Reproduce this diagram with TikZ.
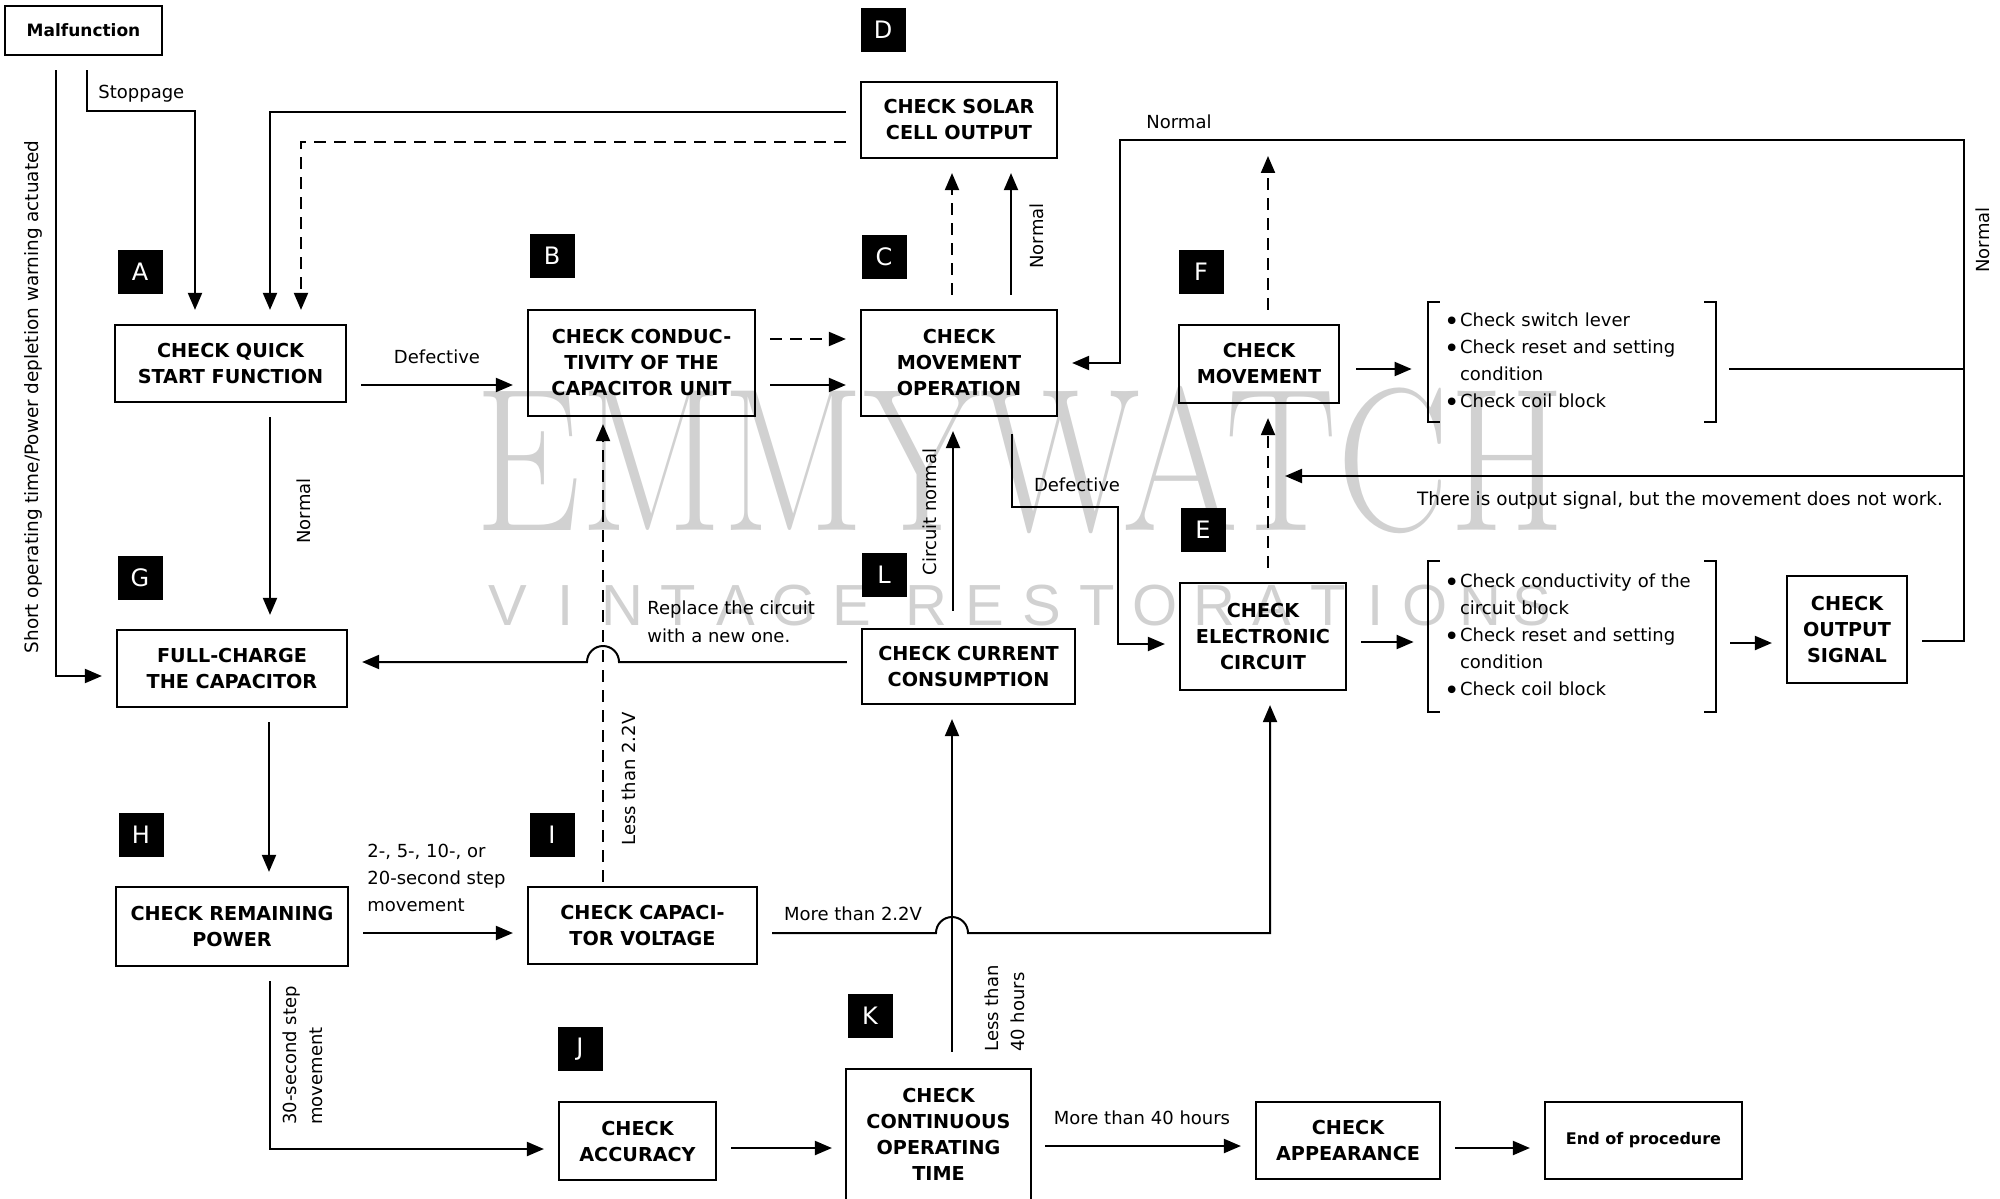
\documentclass[tikz,border=0pt]{standalone}
\usepackage{fontspec}
\setmainfont{DejaVu Sans}
\newfontfamily\wmserif{Latin Modern Roman}
\newfontfamily\wmsans{Liberation Sans}
\usetikzlibrary{arrows.meta}

% bullet of the check lists
\newcommand{\bul}{\makebox[8pt][l]{\raisebox{-1.7pt}{\scalebox{1.45}{\textbullet}}}}
\newlength{\itemw}
\setlength{\itemw}{120pt}

\tikzset{
  box/.style={draw, line width=1.1pt, align=center, inner sep=1pt,
    font=\bfseries\fontsize{9.6}{13}\selectfont},
  tag/.style={fill=black, text=white, inner sep=0pt,
    minimum width=22.5pt, minimum height=22pt, font=\fontsize{12}{12}\selectfont},
  lbl/.style={inner sep=0pt, font=\fontsize{9}{13}\selectfont},
  items/.style={inner sep=0pt, align=left, text width=128pt,
    minimum width=144pt, font=\fontsize{9}{13.5}\selectfont},
  arr/.style={line width=1pt, -{Triangle[length=8.5pt,width=7pt]},
    shorten <=7pt, shorten >=7pt},
  ln/.style={line width=1pt},
  dsh/.style={dash pattern=on 6pt off 4pt},
  brk/.style={line width=1pt},
  wmbig/.style={text=black!18, inner sep=0pt, anchor=base, xscale=0.82,
    font=\wmserif\fontsize{102}{102}\selectfont},
  wmsmall/.style={text=black!18, inner sep=0pt, anchor=base,
    font=\wmsans\fontsize{29}{29}\selectfont},
}

\begin{document}
\begin{tikzpicture}[x=0.5pt,y=-0.5pt]
\useasboundingbox (0,0) rectangle (2000,1198);

% Watermark
\node[wmbig] (wm) at (1020,530) {EMMYWATCH};
\foreach \x/\ch [count=\i] in {508/V,566/I,622/N,678/T,736/A,794/G,852/E,
  926/R,985/E,1042/S,1097/T,1155/O,1214/R,1272/A,1328/T,1376/I,1425/O,1480/N,1532/S}
  \node[wmsmall] (wl\i) at (\x,625) {\ch};

% Boxes
\node[box, minimum width=78.5pt, minimum height=24.5pt,
  font=\bfseries\fontsize{8.5}{10}\selectfont] (malf) at (83.5,30.5) {Malfunction};
\node[box, minimum width=115.5pt, minimum height=38.5pt] (qsf) at (230.5,363.5) {CHECK QUICK\\START FUNCTION};
\node[box, minimum width=113.5pt, minimum height=53pt] (b) at (641.5,363) {CHECK CONDUC-\\TIVITY OF THE\\CAPACITOR UNIT};
\node[box, minimum width=98pt, minimum height=38pt] (solar) at (959,120) {CHECK SOLAR\\CELL OUTPUT};
\node[box, minimum width=98pt, minimum height=53pt] (mo) at (959,363) {CHECK\\MOVEMENT\\OPERATION};
\node[box, minimum width=80pt, minimum height=39pt] (fm) at (1259,364) {CHECK\\MOVEMENT};
\node[box, minimum width=83pt, minimum height=53.5pt] (ec) at (1263,636.5) {CHECK\\ELECTRONIC\\CIRCUIT};
\node[box, minimum width=60pt, minimum height=53.5pt] (os) at (1847,629.5) {CHECK\\OUTPUT\\SIGNAL};
\node[box, minimum width=106.5pt, minimum height=37.5pt] (cc) at (968.5,666.5) {CHECK CURRENT\\CONSUMPTION};
\node[box, minimum width=115pt, minimum height=38.5pt] (fc) at (232,668.5) {FULL-CHARGE\\THE CAPACITOR};
\node[box, minimum width=116pt, minimum height=39.5pt] (rp) at (232,926.5) {CHECK REMAINING\\POWER};
\node[box, minimum width=114.5pt, minimum height=38.5pt] (cv) at (642.5,925.5) {CHECK CAPACI-\\TOR VOLTAGE};
\node[box, minimum width=78.5pt, minimum height=39pt] (acc) at (637.5,1141) {CHECK\\ACCURACY};
\node[box, draw=none, minimum width=91.5pt, minimum height=64pt] (ct) at (938.5,1134) {CHECK\\CONTINUOUS\\OPERATING\\TIME};
\draw[line width=1.1pt] (ct.south west) -- (ct.north west) -- (ct.north east) -- (ct.south east);
\node[box, minimum width=92pt, minimum height=38.5pt] (app) at (1348,1140.5) {CHECK\\APPEARANCE};
\node[box, minimum width=98.5pt, minimum height=38.5pt,
  font=\bfseries\fontsize{8}{10}\selectfont] (fin) at (1643.5,1140.5) {End of procedure};

% Check lists
\node[items, minimum height=60pt] (br1) at (1572,362) {\bul Check switch lever\\
  \bul\makebox[\itemw][s]{Check reset and setting}\\
  \hspace*{8pt}condition\\
  \bul Check coil block};
\node[items, minimum height=75.5pt] (br2) at (1572,636.5) {\bul Check conductivity of the\\
  \hspace*{8pt}circuit block\\
  \bul\makebox[\itemw][s]{Check reset and setting}\\
  \hspace*{8pt}condition\\
  \bul Check coil block};
\foreach \br in {br1,br2} {
  \draw[brk] ([xshift=6pt]\br.north west) -- (\br.north west) -- (\br.south west) -- ([xshift=6pt]\br.south west);
  \draw[brk] ([xshift=-6pt]\br.north east) -- (\br.north east) -- (\br.south east) -- ([xshift=-6pt]\br.south east);
}

% Step tags
\node[tag] (tA) at (140,272) {A};
\node[tag] (tB) at (552,256) {B};
\node[tag] (tC) at (884,257) {C};
\node[tag] (tD) at (883,30) {D};
\node[tag] (tE) at (1203,530) {E};
\node[tag] (tF) at (1201,272) {F};
\node[tag] (tG) at (140,578) {G};
\node[tag] (tH) at (141,835) {H};
\node[tag] (tI) at (552,835) {I};
\node[tag] (tJ) at (580,1049) {J};
\node[tag] (tK) at (870,1016) {K};
\node[tag] (tL) at (884,575) {L};

% Arrows
\coordinate (malfdrop) at ([xshift=-13.75pt]malf.south);
\draw[arr] (malfdrop) |- ([yshift=-3.75pt]fc.west);
\coordinate (stopbend) at (195,111);
\draw[arr] ([xshift=1.75pt]malf.south) |- (stopbend) -- (stopbend |- qsf.north);
\draw[arr] ([yshift=4pt]solar.west) -| ([xshift=19.75pt]qsf.north);
\draw[arr,dsh] ([yshift=-11pt]solar.west) -| ([xshift=35.25pt]qsf.north);
\draw[arr] ([yshift=-10.75pt]qsf.east) -- ([yshift=-10.75pt]qsf.east -| b.west);
\draw[arr,dsh] ([yshift=12pt]b.east) -- ([yshift=12pt]b.east -| mo.west);
\draw[arr] ([yshift=-11pt]b.east) -- ([yshift=-11pt]b.east -| mo.west);
\draw[arr,dsh] ([xshift=-3.5pt]mo.north) -- ([xshift=-3.5pt]mo.north |- solar.south);
\draw[arr] ([xshift=26pt]mo.north) -- ([xshift=26pt]mo.north |- solar.south);

% Normal loop on the right
\coordinate (rtop) at (1964,140);
\coordinate (ltop) at (1120,140);
\draw[arr] ([yshift=-5.75pt]os.east) -| (rtop) -- (ltop) |- (mo.east);
\draw[ln,shorten <=6.5pt] ([yshift=-3.5pt]br1.east) -- ([yshift=-3.5pt]br1.east -| rtop);
\coordinate (sigR) at (1964,476);
\coordinate (dashEF) at ([xshift=2.5pt]ec.north);
\draw[arr,shorten <=0pt,shorten >=8.5pt] (sigR) -- (sigR -| dashEF);
\draw[arr,dsh] (dashEF) -- (dashEF |- fm.south);
\draw[arr,dsh,shorten >=8pt] ([xshift=4.5pt]fm.north) -- ([xshift=4.5pt]fm.north |- ltop);
\draw[arr,shorten <=8pt,shorten >=8pt] ([yshift=-2.5pt]fm.east) -- ([yshift=-2.5pt]fm.east -| br1.west);

\coordinate (defbend) at (1118,507);
\draw[arr,shorten <=8.5pt] ([xshift=26.5pt]mo.south) |- (defbend) |- ([yshift=-3.75pt]ec.west);
\draw[arr] ([yshift=-2.75pt]ec.east) -- ([yshift=-2.75pt]ec.east -| br2.west);
\draw[arr] ([yshift=-3.25pt]br2.east) -- ([yshift=-3.25pt]br2.east -| os.west);
\draw[arr,shorten <=8.5pt] ([xshift=-7.75pt]cc.north) -- ([xshift=-7.75pt]cc.north |- mo.south);

% Lines with a jump
\coordinate (jumpA) at (619,662);
\draw[arr] (cc.west |- jumpA) -- (jumpA) arc[start angle=0,end angle=180,radius=8pt] -- (fc.east |- jumpA);
\draw[arr,dsh,shorten <=2pt,shorten >=3.5pt] ([xshift=-19.75pt]cv.north) -- ([xshift=-19.75pt]cv.north |- b.south);
\draw[arr] ([xshift=19.75pt]qsf.south) -- ([xshift=19.75pt]qsf.south |- fc.north);
\draw[arr] ([xshift=18.5pt]fc.south) -- ([xshift=18.5pt]fc.south |- rp.north);
\draw[arr] ([yshift=-3.25pt]rp.east) -- ([yshift=-3.25pt]rp.east -| cv.west);
\draw[arr] ([xshift=19pt]rp.south) |- ([yshift=-4pt]acc.west);
\coordinate (jumpB) at (936,933);
\draw[arr] ([yshift=-3.75pt]cv.east) -- (jumpB) arc[start angle=180,end angle=0,radius=8pt] -| ([xshift=3.5pt]ec.south);
\draw[arr,shorten <=8.5pt] ([xshift=6.75pt]ct.north) -- ([xshift=6.75pt]ct.north |- cc.south);
\draw[arr] ([yshift=-3.5pt]acc.east) -- ([yshift=-3.5pt]acc.east -| ct.west);
\draw[arr] ([yshift=-6pt]ct.east) -- ([yshift=-6pt]ct.east -| app.west);
\draw[arr] ([yshift=-3.75pt]app.east) -- ([yshift=-3.75pt]app.east -| fin.west);

% Texts on the connectors
\node[lbl, rotate=90, font=\fontsize{9.2}{13}\selectfont] (tshort) at (33,397) {Short operating time/Power depletion warning actuated};
\node[lbl, anchor=west] (tstop) at (98,94) {Stoppage};
\node[lbl] (tdef1) at (437,357) {Defective};
\node[lbl, rotate=90] (tnorm1) at (304,511) {Normal};
\node[lbl, rotate=90] (tnorm2) at (1037,236) {Normal};
\node[lbl, anchor=west] (tnorm3) at (1146,122) {Normal};
\node[lbl, rotate=90] (tnorm4) at (1983,240) {Normal};
\node[lbl, font=\fontsize{9.2}{13}\selectfont] (tsig) at (1680,500) {There is output signal, but the movement does not work.};
\node[lbl] (tdef2) at (1077,485) {Defective};
\node[lbl, rotate=90] (tcirc) at (930,512) {Circuit normal};
\node[lbl, align=left, anchor=west, font=\fontsize{9}{14}\selectfont] (trepl) at (647,622) {Replace the circuit\\with a new one.};
\node[lbl, rotate=90] (tless) at (629,779) {Less than 2.2V};
\node[lbl, align=left, anchor=west, font=\fontsize{9}{13.5}\selectfont] (tstep) at (367,878) {2-, 5-, 10-, or\\20-second step\\movement};
\node[lbl] (tmore) at (853,914) {More than 2.2V};
\node[lbl, rotate=90, align=left, anchor=west] (t30) at (303,1125) {30-second step\\movement};
\node[lbl, rotate=90, align=left, anchor=west] (t40) at (1005,1052) {Less than\\40 hours};
\node[lbl] (tmore40) at (1142,1118) {More than 40 hours};
\end{tikzpicture}
\end{document}
